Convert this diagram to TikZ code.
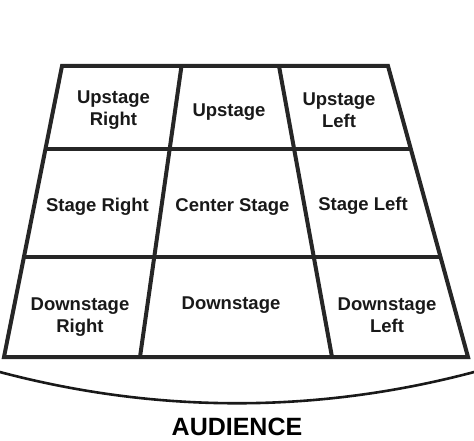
\documentclass[tikz,border=0pt]{standalone}
\usepackage{fontspec}
\setmainfont{Liberation Sans}
\begin{document}
\begin{tikzpicture}[x=1pt,y=-1pt,
  gridline/.style={line width=4pt, draw=black!85},
  lbl/.style={font=\bfseries\fontsize{18.5}{22}\selectfont, text=black!90, align=center, inner sep=0pt},
  aud/.style={font=\bfseries\fontsize{25}{30}\selectfont, text=black, inner sep=0pt}]
\useasboundingbox (0,0) rectangle (474,441);
% outer trapezoid corners
\coordinate (tl) at (62,66);
\coordinate (tr) at (388,66);
\coordinate (br) at (468,357);
\coordinate (bl) at (4,357);
% horizontal dividers
\coordinate (h1l) at (45.5,149);
\coordinate (h1r) at (411,149);
\coordinate (h2l) at (24,257);
\coordinate (h2r) at (440,257);
% vertical dividers
\coordinate (v1t) at (181.5,66);
\coordinate (v1b) at (140,357);
\coordinate (v2t) at (279,66);
\coordinate (v2b) at (332,357);
\draw[gridline] (h1l) -- (h1r);
\draw[gridline] (h2l) -- (h2r);
\draw[gridline] (v1t) -- (v1b);
\draw[gridline] (v2t) -- (v2b);
\draw[gridline, line join=miter] (tl) -- (tr) -- (br) -- (bl) -- cycle;
% audience curve
\coordinate (al) at (-4,371);
\coordinate (ar) at (478,371);
\draw[line width=2.6pt, black!90] (al) .. controls (156,414) and (318,414) .. (ar);
% labels
\node[lbl] (ur) at (113.5,110.5) {Upstage\\Right};
\node[lbl] (us) at (229,112.5) {Upstage};
\node[lbl] (ul) at (339,110.5) {Upstage\\Left};
\node[lbl] (sr) at (97.5,206.5) {Stage Right};
\node[lbl] (cs) at (232.5,207.5) {Center Stage};
\node[lbl] (sl) at (363,205.5) {Stage Left};
\node[lbl] (dr) at (80,317.5) {Downstage\\Right};
\node[lbl] (ds) at (231,305.5) {Downstage};
\node[lbl] (dl) at (387,315) {Downstage\\Left};
\node[aud] (au) at (237,427) {AUDIENCE};
\end{tikzpicture}
\end{document}
